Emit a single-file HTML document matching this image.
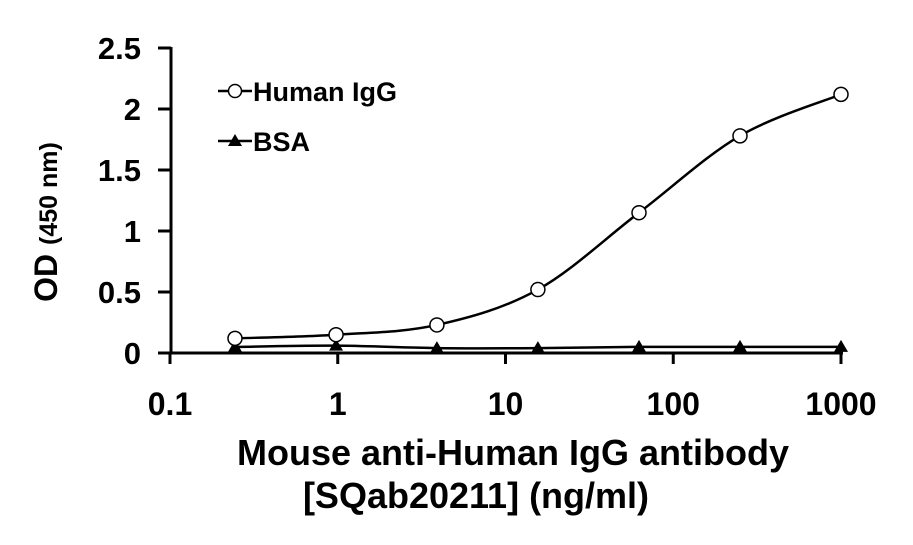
<!DOCTYPE html>
<html><head><meta charset="utf-8"><style>
body{margin:0;background:#fff}
svg text{font-family:"Liberation Sans",Arial,sans-serif;font-weight:bold;fill:#000}
</style></head><body>
<svg id="chart" width="913" height="540" viewBox="0 0 913 540">
<g id="axes"></g><g id="series"></g>
<g>
 <line x1="218" y1="91" x2="252" y2="91" stroke="#000" stroke-width="2.5"/>
 <circle cx="235" cy="91" r="6.5" fill="#fff" stroke="#000" stroke-width="1.5"/>
 <text x="253" y="101" font-size="27">Human IgG</text>
 <line x1="218" y1="141" x2="252" y2="141" stroke="#000" stroke-width="2.5"/>
 <polygon points="235,134 242,146 228,146" fill="#000"/>
 <text x="253" y="151" font-size="27">BSA</text>
</g>
<text x="513" y="465" font-size="36" text-anchor="middle">Mouse anti-Human IgG antibody</text>
<text x="476" y="508" font-size="36" text-anchor="middle">[SQab20211] (ng/ml)</text>
<text transform="translate(57,222) rotate(-90)" font-size="32" text-anchor="middle">OD <tspan font-size="25">(450 nm)</tspan></text>
</svg>
<script>
const concentrations=[0.244,0.977,3.9,15.6,62.5,250,1000];
const humanIgG=[0.12,0.15,0.23,0.52,1.15,1.78,2.12];
const bsa=[0.05,0.06,0.04,0.04,0.05,0.05,0.05];
const xTicks=[0.1,1,10,100,1000];
const xTickLabels=["0.1","1","10","100","1000"];
const yTicks=[0,0.5,1,1.5,2,2.5];
const yTickLabels=["0","0.5","1","1.5","2","2.5"];
const NS="http://www.w3.org/2000/svg";
const X0=170,X1=841,Y0=353,Y1=48;
const xs=v=>X0+(Math.log10(v)+1)/4*(X1-X0);
const ys=v=>Y0-v/2.5*(Y0-Y1);
function mk(t,a,p){const e=document.createElementNS(NS,t);for(const k in a)e.setAttribute(k,a[k]);p.appendChild(e);return e;}
const ax=document.getElementById('axes'),se=document.getElementById('series');
let l=mk('line',{x1:171,y1:Y1-1,x2:171,y2:Y0+1,stroke:'#000','stroke-width':3},ax);


l=mk('line',{x1:169,y1:Y0,x2:X1+2,y2:Y0,stroke:'#000','stroke-width':3},ax);


yTicks.forEach((v,i)=>{const y=ys(v);
 mk('line',{x1:158,y1:y,x2:171,y2:y,stroke:'#000','stroke-width':3},ax);
 const t=mk('text',{x:141,y:y+11,'font-size':31,'text-anchor':'end'},ax);t.textContent=yTickLabels[i];
 
 });
xTicks.forEach((v,i)=>{const x=xs(v);
 mk('line',{x1:x,y1:Y0,x2:x,y2:364,stroke:'#000','stroke-width':3},ax);
 const t=mk('text',{x:x,y:415,'font-size':32,'text-anchor':'middle'},ax);t.textContent=xTickLabels[i];
 
 });
function smooth(pts){let d=`M${pts[0][0]},${pts[0][1]}`;
 for(let i=0;i<pts.length-1;i++){const p0=pts[Math.max(i-1,0)],p1=pts[i],p2=pts[i+1],p3=pts[Math.min(i+2,pts.length-1)];
  d+=` C${p1[0]+(p2[0]-p0[0])/6},${p1[1]+(p2[1]-p0[1])/6} ${p2[0]-(p3[0]-p1[0])/6},${p2[1]-(p3[1]-p1[1])/6} ${p2[0]},${p2[1]}`;}
 return d;}
const hp=concentrations.map((c,i)=>[xs(c),ys(humanIgG[i])]);
const bp=concentrations.map((c,i)=>[xs(c),ys(bsa[i])]);
let p=mk('path',{d:smooth(bp),fill:'none',stroke:'#000','stroke-width':2.5},se);


p=mk('path',{d:smooth(hp),fill:'none',stroke:'#000','stroke-width':2.5},se);


bp.forEach(q=>{const m=mk('polygon',{points:`${q[0]},${q[1]-7} ${q[0]+7},${q[1]+5} ${q[0]-7},${q[1]+5}`,fill:'#000'},se);
 
 });
hp.forEach(q=>{const m=mk('circle',{cx:q[0],cy:q[1],r:7,fill:'#fff',stroke:'#000','stroke-width':1.5},se);
 
 });
</script>
</body></html>
